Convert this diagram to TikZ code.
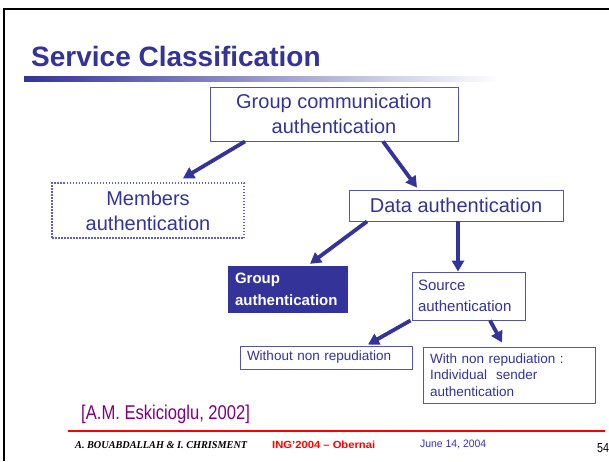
\documentclass[tikz,border=0pt]{standalone}
\usepackage{fontspec}
\usepackage{graphicx}
\setmainfont{Liberation Sans}
\newfontfamily\serifft{Liberation Serif}
\usetikzlibrary{arrows.meta,calc}
\definecolor{dblue}{HTML}{333399}
\definecolor{bord}{HTML}{5555A8}
\definecolor{dotc}{HTML}{6060B8}
\definecolor{cite}{HTML}{800080}
\definecolor{dateblue}{HTML}{3333CC}
\begin{document}
\begin{tikzpicture}[x=1pt,y=-1pt,
  box/.style={draw=bord,line width=0.9pt,rectangle,inner sep=0pt,text=dblue},
  bigtxt/.style={font=\fontsize{20}{25}\selectfont},
  arr/.style={draw=dblue,line width=3.8pt,-{Triangle[length=11pt,width=12pt]}},
  plain/.style={inner sep=0pt,anchor=base west}]
\useasboundingbox (0,0) rectangle (609,461);
\fill[white] (0,0) rectangle (609,461);
% slide border
\coordinate (bl) at (4,461);
\coordinate (tl) at (4,9);
\coordinate (tr) at (609,9);
\draw[line width=2pt] (bl) -- (tl) -- (tr);
% title
\node[plain,text=dblue,font=\bfseries\fontsize{28}{30}\selectfont] (title) at (31,66.7) {Service Classification};
\shade[left color=dblue,right color=white] (24,76) rectangle (500,81.5);
% boxes
\node[box,bigtxt,minimum width=248pt,minimum height=54pt,align=center] (gc) at (334,114) {Group communication\\authentication};
\node[box,bigtxt,draw=dotc,line width=1.3pt,dash pattern=on 1.5pt off 1.5pt,minimum width=192pt,minimum height=55pt,align=center] (mem) at (148,210.5) {Members\\authentication};
\node[box,bigtxt,minimum width=214pt,minimum height=31pt] (da) at (456,205.5) {Data authentication};
\node[rectangle,fill=dblue,text=white,minimum width=120pt,minimum height=47pt,text width=106pt,inner xsep=7pt,inner ysep=0pt,align=left,font=\bfseries\fontsize{15}{21.5}\selectfont] (ga) at (288,289.5) {Group\\authentication};
\node[box,minimum width=113pt,minimum height=48pt,text width=101pt,inner xsep=6pt,align=left,font=\fontsize{15}{21.5}\selectfont] (src) at (468.5,296) {Source\\authentication};
\node[box,minimum width=172pt,minimum height=23pt,text width=158pt,inner xsep=7pt,align=left,font=\fontsize{13.5}{16.5}\selectfont] (wo) at (326,357.5) {Without non repudiation};
\node[box,minimum width=172pt,minimum height=56pt,text width=158pt,inner xsep=7pt,align=left,font=\fontsize{13.5}{16.5}\selectfont] (wi) at (509,375) {With non repudiation :\\Individual\ \ sender\\authentication};
% arrows
\draw[arr] ([xshift=-89pt]gc.south) -- ([xshift=35pt,yshift=4pt]mem.north);
\draw[arr] ([xshift=49pt]gc.south) -- ([xshift=-39pt,yshift=2pt]da.north);
\draw[arr] ([xshift=-89pt]da.south) -- ([xshift=22pt,yshift=2pt]ga.north);
\draw[arr] ([xshift=2pt]da.south) -- ([xshift=-10.5pt]src.north);
\draw[arr] ([xshift=-1pt]src.south west) -- ([xshift=42pt,yshift=1pt]wo.north);
\draw[arr] ([xshift=21.5pt]src.south) -- ([xshift=-7pt,yshift=4pt]wi.north);
% citation
\node[plain,text=cite,font=\fontsize{16.6}{18}\selectfont] (cit) at (81,419) {\scalebox{1}[1.2]{[A.M. Eskicioglu, 2002]}};
% footer
\coordinate (rl) at (68,431);
\coordinate (rr) at (605,431);
\draw[red,line width=2pt] (rl) -- (rr);
\node[plain] (auth) at (75,448.5) {\resizebox{172pt}{7pt}{\serifft\bfseries\itshape A. BOUABDALLAH \& I. CHRISMENT}};
\node[plain,text=red] (ing) at (272,448.5) {\resizebox{103pt}{7.5pt}{\bfseries ING'2004 -- Obernai}};
\node[plain,text=dateblue] (date) at (420,447) {\resizebox{66pt}{7.5pt}{June 14, 2004}};
\node[plain] (pg) at (597,452.5) {\resizebox{12pt}{9pt}{54}};
\end{tikzpicture}
\end{document}
